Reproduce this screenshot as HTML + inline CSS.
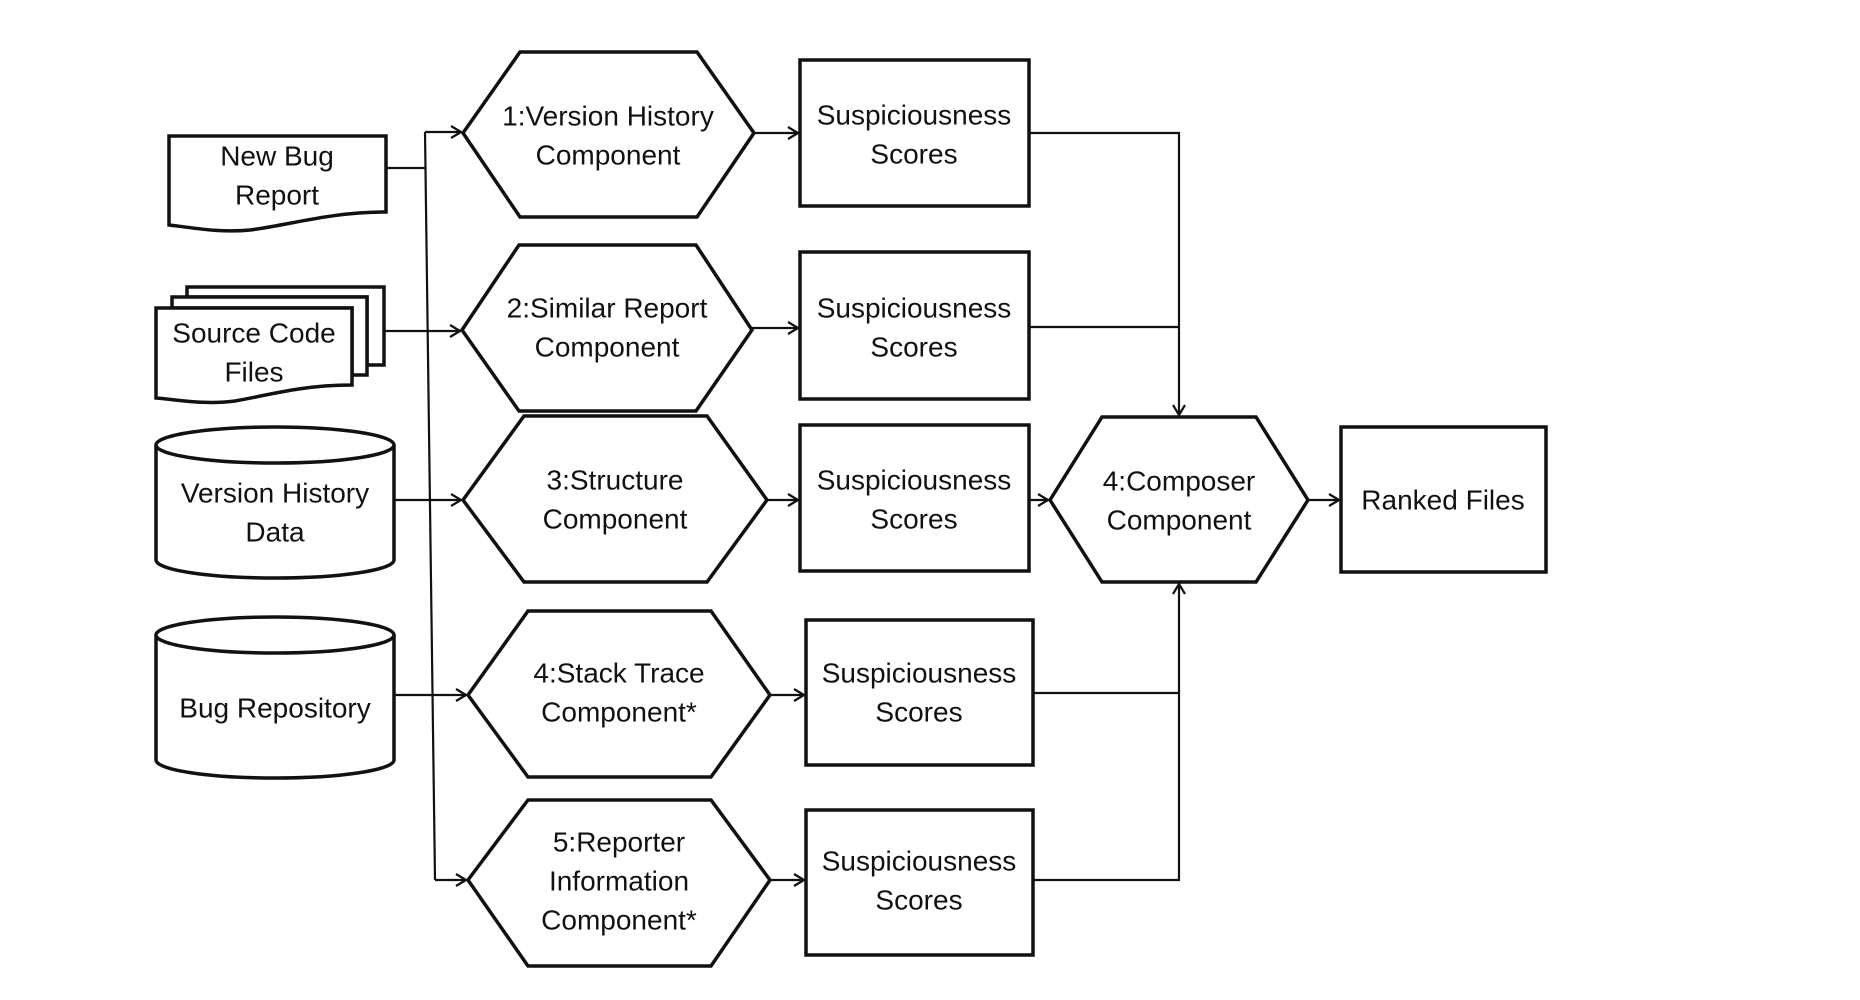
<!DOCTYPE html>
<html><head><meta charset="utf-8"><style>html,body{margin:0;padding:0;background:#fff}svg{display:block}text{font-family:"Liberation Sans",sans-serif;font-size:28px;fill:#111;text-anchor:middle;dominant-baseline:central}</style></head><body>
<svg width="1860" height="1000" viewBox="0 0 1860 1000">
<defs><marker id="a" markerWidth="14" markerHeight="14" refX="12" refY="7" orient="auto" markerUnits="userSpaceOnUse"><path d="M2,1 L12,7 L2,13" fill="none" stroke="#111" stroke-width="2.2"/></marker></defs>
<g fill="#fff" stroke="#111" stroke-width="3.5" stroke-linejoin="miter">
<path d="M169,136 H386 V212 C330,212 290,225 250,230 C220,233 195,228 169,225 Z"/>
<path d="M187,287 H384 V365 H367 V297 H187 Z"/>
<path d="M172,297 H367 V375 H352 V308 H172 Z"/>
<path d="M156,308 H352 V385 C300,385 265,396 235,401 C205,405 180,400 156,398 Z"/>
<path d="M156,445 A119,18 0 0 1 394,445 V560 A119,18 0 0 1 156,560 Z"/>
<path d="M156,445 A119,18 0 0 0 394,445"/>
<path d="M156,635 A119,18 0 0 1 394,635 V760 A119,18 0 0 1 156,760 Z"/>
<path d="M156,635 A119,18 0 0 0 394,635"/>
<polygon points="463,133 520,52 697,52 754,133 697,217 520,217"/>
<polygon points="462,330 519,245 696,245 752,330 696,411 519,411"/>
<polygon points="463,500 524,416 707,416 767,500 707,582 524,582"/>
<polygon points="468,695 528,611 711,611 770,695 711,777 528,777"/>
<polygon points="468,880 528,800 711,800 770,880 711,966 528,966"/>
<polygon points="1050,500 1102,417 1256,417 1308,500 1256,582 1102,582"/>
<rect x="800" y="60" width="229" height="146"/>
<rect x="800" y="252" width="229" height="147"/>
<rect x="800" y="425" width="229" height="146"/>
<rect x="806" y="620" width="227" height="145"/>
<rect x="806" y="810" width="227" height="145"/>
<rect x="1341" y="427" width="205" height="145"/>
</g>
<g fill="none" stroke="#111" stroke-width="2.2">
<path d="M425,132 L435,880"/>
<path d="M386,168 H425"/>
<path d="M425,132 H461" marker-end="url(#a)"/>
<path d="M384,331 H460" marker-end="url(#a)"/>
<path d="M394,500 H461" marker-end="url(#a)"/>
<path d="M394,695 H466" marker-end="url(#a)"/>
<path d="M435,880 H466" marker-end="url(#a)"/>
<path d="M754,133 H798" marker-end="url(#a)"/>
<path d="M752,328 H798" marker-end="url(#a)"/>
<path d="M767,500 H798" marker-end="url(#a)"/>
<path d="M770,695 H804" marker-end="url(#a)"/>
<path d="M770,880 H804" marker-end="url(#a)"/>
<path d="M1029,133 H1179 V415" marker-end="url(#a)"/>
<path d="M1029,327 H1179"/>
<path d="M1029,500 H1048" marker-end="url(#a)"/>
<path d="M1033,693 H1179"/>
<path d="M1033,880 H1179 V584" marker-end="url(#a)"/>
<path d="M1308,500 H1339" marker-end="url(#a)"/>
</g>
<text x="277" y="156">New Bug</text><text x="277" y="195">Report</text>
<text x="254" y="333">Source Code</text><text x="254" y="372">Files</text>
<text x="275" y="493">Version History</text><text x="275" y="532">Data</text>
<text x="275" y="708">Bug Repository</text>
<text x="608" y="116">1:Version History</text><text x="608" y="155">Component</text>
<text x="607" y="308">2:Similar Report</text><text x="607" y="347">Component</text>
<text x="615" y="480">3:Structure</text><text x="615" y="519">Component</text>
<text x="619" y="673">4:Stack Trace</text><text x="619" y="712">Component*</text>
<text x="619" y="842">5:Reporter</text><text x="619" y="881">Information</text><text x="619" y="920">Component*</text>
<g><text x="914" y="115">Suspiciousness</text><text x="914" y="154">Scores</text>
<text x="914" y="308">Suspiciousness</text><text x="914" y="347">Scores</text>
<text x="914" y="480">Suspiciousness</text><text x="914" y="519">Scores</text>
<text x="919" y="673">Suspiciousness</text><text x="919" y="712">Scores</text>
<text x="919" y="861">Suspiciousness</text><text x="919" y="900">Scores</text></g>
<text x="1179" y="481">4:Composer</text><text x="1179" y="520">Component</text>
<text x="1443" y="500">Ranked Files</text>
</svg>
</body></html>
